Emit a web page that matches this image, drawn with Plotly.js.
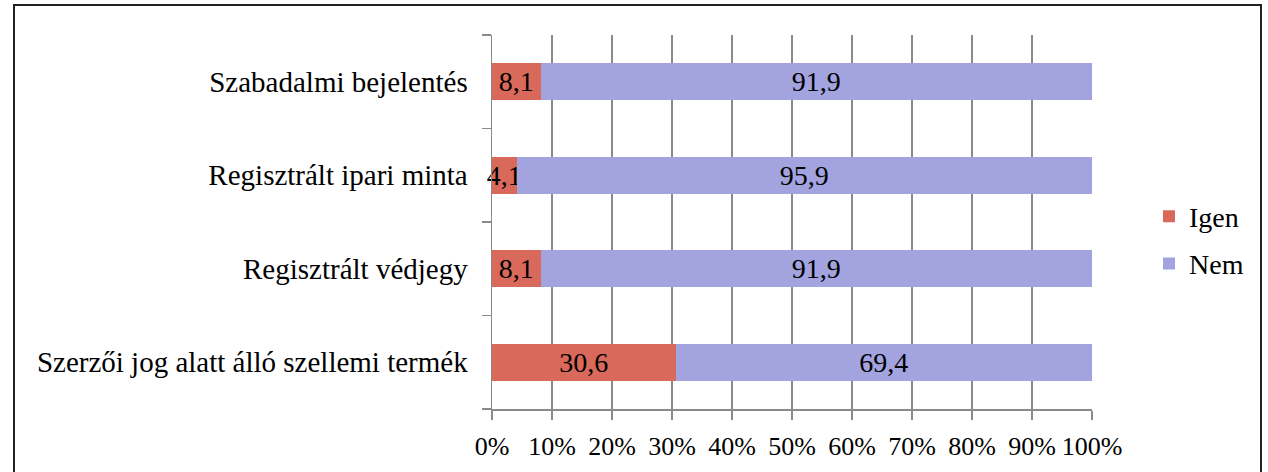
<!DOCTYPE html>
<html>
<head>
<meta charset="utf-8">
<script src="https://cdn.plot.ly/plotly-3.0.1.min.js"></script>
<style>
  html, body { margin: 0; padding: 0; background: #fff; }
  #wrap { position: relative; width: 1268px; height: 472px; overflow: hidden; }
  #chart { width: 1268px; height: 472px; }
  #frame { position: absolute; left: 13px; top: 4px; width: 1249px; height: 480px;
           border: 2px solid #222; pointer-events: none; box-sizing: border-box; }
</style>
</head>
<body>
<div id="wrap">
  <div id="chart"></div>
  <div id="frame"></div>
</div>
<script>
// Data (bottom to top)
const categories = [
  "Szerzői jog alatt álló szellemi termék",
  "Regisztrált védjegy",
  "Regisztrált ipari minta",
  "Szabadalmi bejelentés"
];
const igenValues = [30.6, 8.1, 4.1, 8.1];
const nemValues  = [69.4, 91.9, 95.9, 91.9];
const seriesNames = ["Igen", "Nem"];
const xTickValues = [0, 10, 20, 30, 40, 50, 60, 70, 80, 90, 100];
const xTickLabels = ["0%", "10%", "20%", "30%", "40%", "50%", "60%", "70%", "80%", "90%", "100%"];

const fmt = v => v.toFixed(1).replace('.', ',');
const FONT = "Liberation Serif";
const GRID = "#8a8a8a";

function barTrace(name, group, values, color) {
  return {
    type: 'bar', orientation: 'h', name: name, legendgroup: group,
    y: categories, x: values, text: values.map(fmt),
    textposition: 'inside', insidetextanchor: 'middle', textangle: 0,
    constraintext: 'none',
    textfont: { family: FONT, size: 28, color: '#000' },
    insidetextfont: { family: FONT, size: 28, color: '#000' },
    marker: { color: color, line: { width: 0 } }, hoverinfo: 'skip', cliponaxis: false
  };
}

const traces = [
  barTrace(seriesNames[0], 'a', igenValues, '#D9695A'),
  barTrace(seriesNames[1], 'b', nemValues, '#A3A3DF')
];

const layout = {
  width: 1268, height: 472,
  margin: { l: 492, r: 176, t: 35, b: 63, pad: 0 },
  paper_bgcolor: '#fff', plot_bgcolor: '#fff',
  barmode: 'stack', bargap: 0.6,
  font: { family: FONT, size: 28, color: '#000' },
  uniformtext: { minsize: 28, mode: 'show' },
  showlegend: true,
  legend: {
    x: 1.095, xanchor: 'left', y: 0.452, yanchor: 'middle', xref: 'paper',
    font: { family: FONT, size: 28, color: '#000' },
    traceorder: 'grouped', tracegroupgap: 8,
    itemwidth: 30, bgcolor: 'rgba(0,0,0,0)'
  },
  xaxis: {
    range: [0, 100], tickmode: 'array', tickvals: xTickValues, ticktext: xTickLabels,
    tickangle: 0,
    showgrid: true, gridcolor: GRID, gridwidth: 1.5,
    showline: true, linecolor: GRID, linewidth: 1.5,
    ticks: 'outside', ticklen: 9, tickcolor: GRID, tickwidth: 1.5,
    ticklabelstandoff: 4,
    zeroline: false, fixedrange: true,
    tickfont: { family: FONT, size: 26, color: '#000' }
  },
  yaxis: {
    type: 'category', categoryorder: 'array', categoryarray: categories,
    showgrid: false, zeroline: false,
    showline: true, linecolor: GRID, linewidth: 1.5,
    ticks: 'outside', ticklen: 9, tickcolor: GRID, tickwidth: 1.5,
    tickson: 'boundaries', ticklabelstandoff: 17, fixedrange: true,
    tickfont: { family: FONT, size: 29, color: '#000' }
  }
};

Plotly.newPlot('chart', traces, layout, { staticPlot: true, displayModeBar: false });
</script>
</body>
</html>
